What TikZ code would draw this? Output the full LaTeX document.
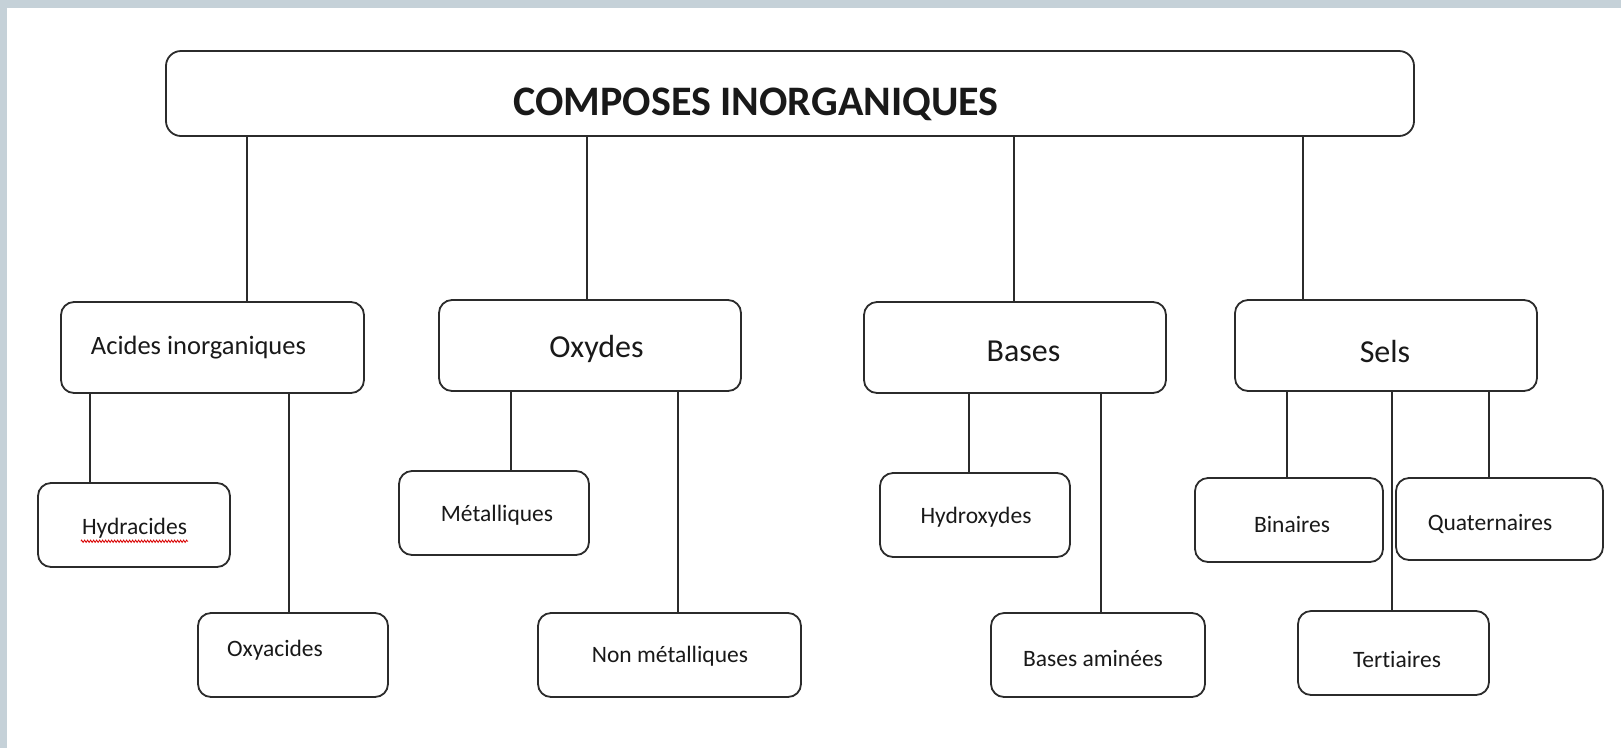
\documentclass[tikz,border=0pt]{standalone}
\usepackage{fontspec}
\setmainfont{Carlito}[Ligatures=NoCommon]
\usetikzlibrary{decorations.pathmorphing}
\definecolor{band}{HTML}{C5D1D8}
\definecolor{edge}{HTML}{2B2B2B}
\begin{document}
\begin{tikzpicture}[x=1pt,y=-1pt,
  box/.style 2 args={draw=edge, line width=1.8pt, rounded corners=13pt, minimum width=#1pt, minimum height=#2pt, inner sep=0pt},
  lbl/.style={inner sep=0pt, text=black!90},
  small/.style={lbl, font=\fontsize{23.5}{28}\selectfont},
  mid/.style={lbl, font=\fontsize{32}{38}\selectfont},
  link/.style={draw=edge, line width=1.6pt}]
\fill[white] (0,0) rectangle (1621,748);
\fill[band] (0,0) rectangle (1621,8);
\fill[band] (0,0) rectangle (7,748);
\useasboundingbox (0,0) rectangle (1621,748);

% boxes
\node[box={1248}{85}, rounded corners=15pt] (top) at (790,93.5) {};
\node[box={303}{91}] (acid) at (212.5,347.5) {};
\node[box={302}{91}] (oxy) at (590,345.5) {};
\node[box={302}{91}] (bas) at (1015,347.5) {};
\node[box={302}{91}] (sels) at (1386,345.5) {};
\node[box={192}{84}] (hydra) at (134,525) {};
\node[box={190}{84}] (oxyac) at (293,655) {};
\node[box={190}{84}] (metal) at (494,513) {};
\node[box={263}{84}] (nonmet) at (669.5,655) {};
\node[box={190}{84}] (hydrox) at (975,515) {};
\node[box={214}{84}] (amine) at (1098,655) {};
\node[box={188}{84}] (bin) at (1289,520) {};
\node[box={207}{82}] (quat) at (1499.5,519) {};
\node[box={191}{84}] (tert) at (1393.5,653) {};

% labels
\node[lbl, font=\fontsize{42}{50}\selectfont\bfseries] (ttop) at (756,104) {COMPOSES INORGANIQUES};
\node[lbl, font=\fontsize{26.5}{32}\selectfont] (tacid) at (198.5,348) {Acides inorganiques};
\node[mid] (toxy) at (596.5,349) {Oxydes};
\node[mid] (tbas) at (1023.5,351) {Bases};
\node[mid] (tsels) at (1385,351) {Sels};
\node[small] (thydra) at (134.5,528) {Hydracides};
\node[small] (toxyac) at (275,650) {Oxyacides};
\node[small] (tmetal) at (497,515) {Métalliques};
\node[small] (tnonmet) at (670,656) {Non métalliques};
\node[small] (thydrox) at (976,517) {Hydroxydes};
\node[small] (tamine) at (1093,658) {Bases aminées};
\node[small] (tbin) at (1292,524) {Binaires};
\node[small] (tquat) at (1490,524) {Quaternaires};
\node[small] (ttert) at (1397,659) {Tertiaires};

% spell-check squiggle
\draw[red!85!black, line width=0.8pt, decorate, decoration={zigzag, amplitude=1.2pt, segment length=3pt}]
  ([xshift=-1pt,yshift=-3pt]thydra.south west) -- ([xshift=1pt,yshift=-3pt]thydra.south east);

% connectors
\draw[link] (top.south -| 247,0) -- (acid.north -| 247,0);
\draw[link] (top.south -| 587,0) -- (oxy.north -| 587,0);
\draw[link] (top.south -| 1014,0) -- (bas.north -| 1014,0);
\draw[link] (top.south -| 1303,0) -- (sels.north -| 1303,0);

\draw[link] (acid.south -| 90,0) -- (hydra.north -| 90,0);
\draw[link] (acid.south -| 289,0) -- (oxyac.north -| 289,0);
\draw[link] (oxy.south -| 511,0) -- (metal.north -| 511,0);
\draw[link] (oxy.south -| 678,0) -- (nonmet.north -| 678,0);
\draw[link] (bas.south -| 969,0) -- (hydrox.north -| 969,0);
\draw[link] (bas.south -| 1101,0) -- (amine.north -| 1101,0);
\draw[link] (sels.south -| 1287,0) -- (bin.north -| 1287,0);
\draw[link] (sels.south -| 1392,0) -- (tert.north -| 1392,0);
\draw[link] (sels.south -| 1489,0) -- (quat.north -| 1489,0);
\end{tikzpicture}
\end{document}
